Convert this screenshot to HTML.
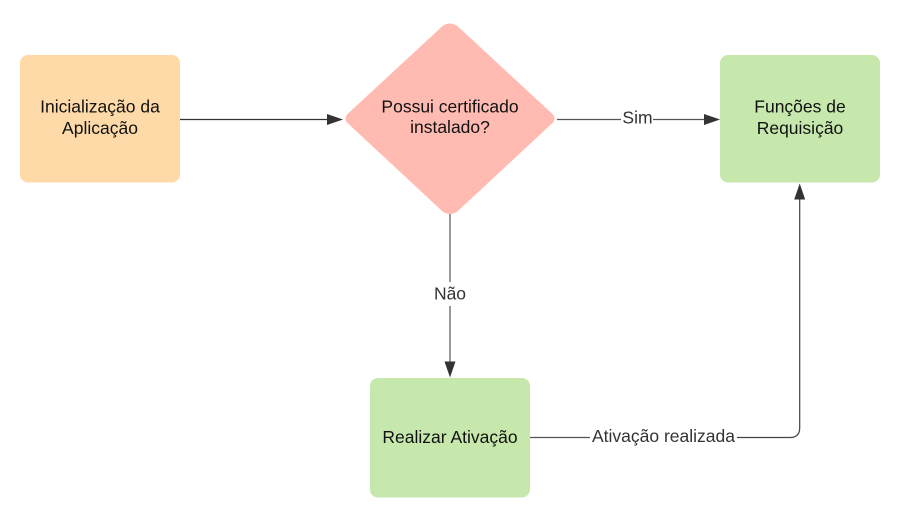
<!DOCTYPE html>
<html>
<head>
<meta charset="utf-8">
<style>
  html,body{margin:0;padding:0;background:#fff;}
  body{width:900px;height:517px;overflow:hidden;}
  svg{display:block;}
  svg text{font-family:"Liberation Sans", Arial, sans-serif;font-size:17.5px;}
</style>
</head>
<body>
<svg width="900" height="517" viewBox="0 0 900 517" xmlns="http://www.w3.org/2000/svg" font-family="Liberation Sans, Arial, sans-serif" font-size="17.5">
  <rect x="0" y="0" width="900" height="517" fill="#ffffff"/>

  <!-- Box 1 -->
  <rect x="20" y="55" width="160" height="127.5" rx="8" ry="8" fill="#FEDAA8"/>
  <text x="100" y="112.5" text-anchor="middle" fill="#111">Inicialização da</text>
  <text x="100" y="134" text-anchor="middle" fill="#111">Aplicação</text>

  <!-- Diamond -->
  <path d="M450,23.5 Q455,23.5 459,27.5 L552.5,114 Q556.5,118.5 552.5,123 L459,210 Q455,214 450,214 Q445,214 441,210 L347.5,123 Q343.5,118.5 347.5,114 L441,27.5 Q445,23.5 450,23.5 Z" fill="#FFBBB1"/>
  <text x="450" y="112.5" text-anchor="middle" fill="#111">Possui certificado</text>
  <text x="450" y="133" text-anchor="middle" fill="#111">instalado?</text>

  <!-- Box Funções -->
  <rect x="720" y="55" width="160" height="127.5" rx="8" ry="8" fill="#C7E8AC"/>
  <text x="800" y="112.5" text-anchor="middle" fill="#111">Funções de</text>
  <text x="800" y="134" text-anchor="middle" fill="#111">Requisição</text>

  <!-- Box Realizar -->
  <rect x="370" y="378" width="160" height="119.5" rx="8" ry="8" fill="#C7E8AC"/>
  <text x="450" y="443" text-anchor="middle" fill="#111">Realizar Ativação</text>

  <!-- Arrow 1: box1 -> diamond -->
  <line x1="180" y1="119.5" x2="329" y2="119.5" stroke="#333" stroke-width="1.2"/>
  <polygon points="343,119.5 327,114 327,125" fill="#333"/>

  <!-- Arrow Sim -->
  <line x1="557" y1="119.5" x2="621" y2="119.5" stroke="#555" stroke-width="1.2"/>
  <line x1="653" y1="119.5" x2="706" y2="119.5" stroke="#555" stroke-width="1.2"/>
  <polygon points="720,119.5 704,114 704,125" fill="#333"/>
  <text x="637.5" y="123.5" text-anchor="middle" fill="#333">Sim</text>

  <!-- Arrow Não -->
  <line x1="450" y1="214" x2="450" y2="282" stroke="#555" stroke-width="1.2"/>
  <line x1="450" y1="306" x2="450" y2="363" stroke="#555" stroke-width="1.2"/>
  <polygon points="450,377.5 444.5,361.5 455.5,361.5" fill="#333"/>
  <text x="450" y="299.5" text-anchor="middle" fill="#333">Não</text>

  <!-- Arrow Ativação realizada -->
  <line x1="530" y1="437.5" x2="590" y2="437.5" stroke="#555" stroke-width="1.2"/>
  <path d="M737,437.5 L790,437.5 Q799.7,437.5 799.7,428 L799.7,198" fill="none" stroke="#444" stroke-width="1.2"/>
  <polygon points="799.7,183.5 794.2,199.5 805.2,199.5" fill="#333"/>
  <text x="663.5" y="442" text-anchor="middle" fill="#333">Ativação realizada</text>
</svg>
</body>
</html>
